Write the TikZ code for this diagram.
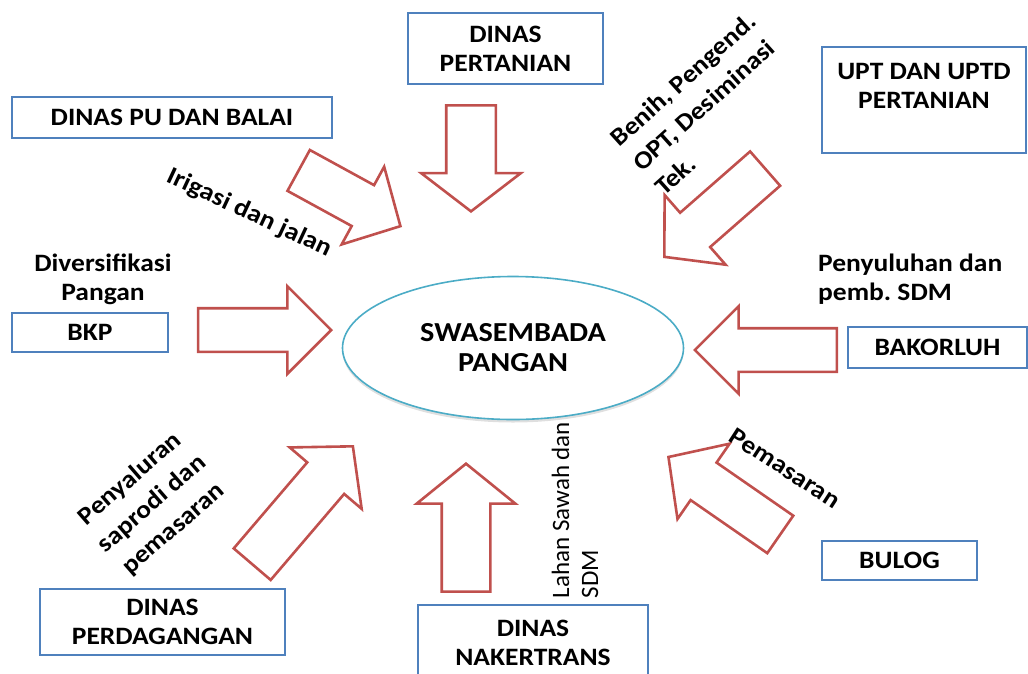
\documentclass[tikz,border=0pt]{standalone}
\usepackage{fontspec}
\setmainfont{Carlito}[FakeStretch=1.10]
\newfontfamily\sidefont{Carlito}
\usetikzlibrary{shapes.geometric,shapes.arrows,shadows}
\definecolor{boxblue}{RGB}{79,129,189}
\definecolor{arrred}{RGB}{192,80,77}
\definecolor{ellblue}{RGB}{75,172,198}
\tikzset{
    box/.style={draw=boxblue, line width=2.2pt, fill=white, align=center, inner sep=0pt},
    barrow/.style={single arrow, draw=arrred, fill=white, line width=2.6pt, inner sep=0pt,
        text height=44pt, text depth=0pt, single arrow head extend=22pt,
        single arrow tip angle=95, anchor=tip},
    lbl/.style={align=center, inner sep=0pt},
    tilted/.style={lbl, font=\fontsize{25}{33}\selectfont\bfseries}
}

\begin{document}
\frenchspacing
\begin{tikzpicture}[x=1pt, y=-1pt, font=\fontsize{25}{29}\selectfont\bfseries]
\useasboundingbox (0,0) rectangle (1028,673);

% tujuan
\node[ellipse, draw=ellblue, line width=1.6pt, fill=white, align=center, minimum width=341pt, minimum height=143pt,
    font=\fontsize{27.5}{30}\selectfont\bfseries,
    drop shadow={opacity=0.25, shadow xshift=0pt, shadow yshift=-3pt}] (swa) at (513,348) {SWASEMBADA\\PANGAN};

% instansi
\node[box, minimum width=195pt, minimum height=71pt] (pert) at (505.5,48.5) {DINAS\\PERTANIAN};
\node[box, minimum width=320pt, minimum height=41pt] (pu) at (172,117.5) {DINAS PU DAN BALAI};
\node[box, minimum width=204pt, minimum height=106pt] (upt) at (924,100) {UPT DAN UPTD\\PERTANIAN\\\mbox{}};
\node[box, minimum width=156pt, minimum height=39pt] (bkp) at (90,332.5) {BKP};
\node[box, minimum width=179pt, minimum height=41pt] (bako) at (937.5,347.5) {BAKORLUH};
\node[box, minimum width=245pt, minimum height=66pt] (dag) at (162.5,622) {DINAS\\PERDAGANGAN};
\node[box, minimum width=230pt, minimum height=75pt] (naker) at (533,642.5) {DINAS\\NAKERTRANS};
\node[box, minimum width=155pt, minimum height=39pt] (bulog) at (899.5,560.5) {BULOG};

% panah blok
\node[barrow, rotate=-90, minimum height=106pt, text height=47pt, single arrow head extend=25pt,
    single arrow tip angle=105] (a1) at (471,213) {};
\node[barrow, rotate=-28.7, minimum height=116pt, single arrow head extend=21pt, single arrow tip angle=92] (a2) at (402,227) {};
\node[barrow, rotate=221.2, minimum height=134pt, text height=43pt, single arrow head extend=23.5pt,
    single arrow tip angle=97] (a3) at (663,258) {};
\node[barrow, rotate=0, minimum height=133pt, text height=41pt, single arrow tip angle=90] (a4) at (333,330) {};
\node[barrow, rotate=180, minimum height=142pt, text height=41pt, single arrow tip angle=90] (a5) at (693,350) {};
\node[barrow, rotate=49.5, minimum height=155pt, text height=46pt, single arrow head extend=23pt,
    single arrow tip angle=97] (a6) at (354,445) {};
\node[barrow, rotate=90, minimum height=128pt, text height=46pt, single arrow head extend=25pt,
    single arrow tip angle=102] (a7) at (466,462) {};
\node[barrow, rotate=145.3, minimum height=136pt, text height=43pt, single arrow head extend=23pt,
    single arrow tip angle=94] (a8) at (667,456) {};

% keterangan
\node[tilted, rotate=42, align=left] (benih) at (705,104) {Benih, Pengend.\\OPT, Desiminasi\\Tek.};
\node[lbl, rotate=-25] (irig) at (249,213) {Irigasi dan jalan};
\node[lbl] (div) at (103,279) {Diversifikasi\\Pangan};
\node[lbl, anchor=west, align=left] (suluh) at (818,279) {Penyuluhan dan\\pemb. SDM};
\node[tilted, rotate=41] (salur) at (152,504) {Penyaluran\\saprodi dan\\pemasaran};
\node[lbl, rotate=90, align=left, font=\fontsize{25}{29}\sidefont] (lahan) at (575,510) {Lahan Sawah dan\\SDM};
\node[lbl, rotate=-33] (pasar) at (785,468) {Pemasaran};

\end{tikzpicture}
\end{document}
